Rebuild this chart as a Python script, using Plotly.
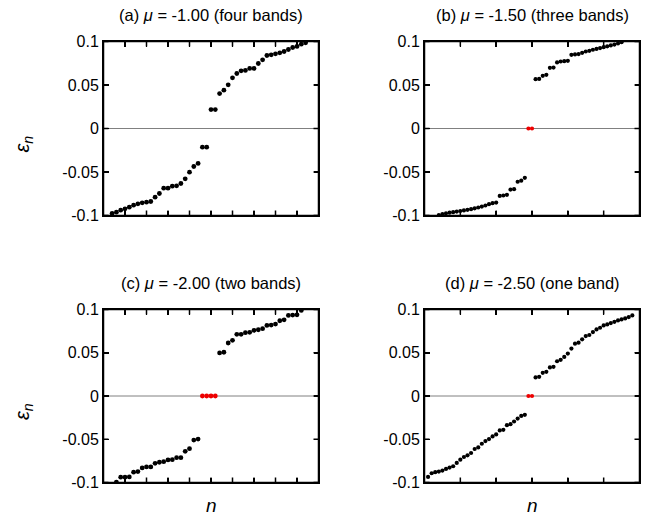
import plotly.graph_objects as go

# ---------------- data ----------------
a_n = list(range(2, 48))
a_eps = [-0.0977, -0.0962, -0.0939, -0.0923, -0.0904, -0.0881, -0.0866, -0.0854, -0.0847, -0.0839,
         -0.0789, -0.0747, -0.0686, -0.0686, -0.0663, -0.0659, -0.0632, -0.0579, -0.0502, -0.0437,
         -0.0402, -0.0215, -0.0215, 0.0218, 0.0218, 0.0402, 0.0441, 0.0502, 0.0582, 0.0632,
         0.0663, 0.0667, 0.0690, 0.0690, 0.0747, 0.0789, 0.0839, 0.0847, 0.0858, 0.0870,
         0.0885, 0.0908, 0.0931, 0.0943, 0.0969, 0.0985]
b_n = list(range(4, 29)) + list(range(31, 56))
b_eps = [-0.0996, -0.0985, -0.0975, -0.0968, -0.0962, -0.0955, -0.0948, -0.0942, -0.0935, -0.0927,
         -0.0918, -0.0908, -0.0897, -0.0885, -0.0870, -0.0858, -0.0852, -0.0775, -0.0770, -0.0762,
         -0.0702, -0.0697, -0.0612, -0.0600, -0.0567,
         0.0567, 0.0570, 0.0605, 0.0617, 0.0697, 0.0700, 0.0760, 0.0770, 0.0774, 0.0778,
         0.0847, 0.0852, 0.0856, 0.0870, 0.0885, 0.0893, 0.0905, 0.0915, 0.0925, 0.0935,
         0.0945, 0.0955, 0.0965, 0.0978, 0.0992]
b_zero_n = [29, 30]
b_zero_eps = [0.0, 0.0]
c_n = list(range(3, 23)) + list(range(27, 47))
c_eps = [-0.0995, -0.0939, -0.0939, -0.0935, -0.0881, -0.0874, -0.0831, -0.0820, -0.0820, -0.0778,
         -0.0766, -0.0759, -0.0739, -0.0736, -0.0713, -0.0713, -0.0640, -0.0609, -0.0510, -0.0498,
         0.0498, 0.0506, 0.0613, 0.0644, 0.0713, 0.0713, 0.0732, 0.0736, 0.0759, 0.0766,
         0.0778, 0.0816, 0.0820, 0.0831, 0.0870, 0.0881, 0.0931, 0.0935, 0.0939, 0.0989]
c_zero_n = [23, 24, 25, 26]
c_zero_eps = [0.0, 0.0, 0.0, 0.0]
d_n = list(range(1, 29)) + list(range(31, 59))
d_eps = [-0.0935, -0.0893, -0.0881, -0.0874, -0.0862, -0.0843, -0.0828, -0.0812, -0.0774, -0.0736,
         -0.0705, -0.0686, -0.0659, -0.0613, -0.0594, -0.0552, -0.0521, -0.0498, -0.0467, -0.0444,
         -0.0398, -0.0391, -0.0337, -0.0326, -0.0295, -0.0261, -0.0230, -0.0218,
         0.0215, 0.0222, 0.0268, 0.0280, 0.0330, 0.0337, 0.0402, 0.0418, 0.0452, 0.0490,
         0.0548, 0.0605, 0.0617, 0.0655, 0.0693, 0.0705, 0.0739, 0.0770, 0.0789, 0.0816,
         0.0828, 0.0843, 0.0858, 0.0874, 0.0885, 0.0897, 0.0912, 0.0931]
d_zero_n = [29, 30]
d_zero_eps = [0.0, 0.0]

titles = ["(a) <i>μ</i> = -1.00 (four bands)", "(b) <i>μ</i> = -1.50 (three bands)",
          "(c) <i>μ</i> = -2.00 (two bands)", "(d) <i>μ</i> = -2.50 (one band)"]
y_tickvals = [-0.1, -0.05, 0, 0.05, 0.1]
y_ticktext = ["-0.1", "-0.05", "0", "0.05", "0.1"]
x_ranges = [[0, 50], [0, 60], [0, 50], [0, 60]]
y_range = [-0.1, 0.1]
x_tickvals = [list(range(5, 50, 5)), list(range(10, 60, 10)),
              list(range(5, 50, 5)), list(range(10, 60, 10))]

# ---------------- figure ----------------
W, H = 654, 520
FONT = "Liberation Sans"
fig = go.Figure()

xdom = [(103.5, 318.5), (424.5, 639.5)]
ydom = [(41.5, 215.5), (309.5, 482.5)]

def px2x(p):
    return p / W

def px2y(p):
    return 1 - p / H

panels = [
    (0, 0, a_n, a_eps, None, None, 4.8),
    (0, 1, b_n, b_eps, b_zero_n, b_zero_eps, 4.2),
    (1, 0, c_n, c_eps, c_zero_n, c_zero_eps, 4.8),
    (1, 1, d_n, d_eps, d_zero_n, d_zero_eps, 4.2),
]

LW = 1.5
TICK_FRAC_X = 5 / 174.0   # tick length as a fraction of panel height
TICK_FRAC_Y = 5 / 215.0   # tick length as a fraction of panel width
layout_axes = {}
for k, (r, c, xs, ys, zx, zy, ms) in enumerate(panels):
    idx = k + 1
    sfx = "" if idx == 1 else str(idx)
    xr, yr = "x" + sfx, "y" + sfx
    fig.add_trace(go.Scatter(x=xs, y=ys, mode="markers", xaxis=xr, yaxis=yr,
                             marker=dict(color="black", size=ms, line=dict(width=0)),
                             showlegend=False))
    if zx is not None:
        fig.add_trace(go.Scatter(x=zx, y=zy, mode="markers", xaxis=xr, yaxis=yr,
                                 marker=dict(color="#ee0000", size=ms, line=dict(width=0)),
                                 showlegend=False))
    x0, x1 = xdom[c]
    y0, y1 = ydom[r]
    layout_axes["xaxis" + sfx] = dict(
        domain=[px2x(x0), px2x(x1)], range=x_ranges[k], anchor=yr,
        tickmode="array", tickvals=x_tickvals[k], showticklabels=False,
        ticks="inside", ticklen=5, tickwidth=LW, tickcolor="#000000",
        showline=True, linecolor="#000000", linewidth=LW, mirror="allticks",
        showgrid=False, zeroline=False, automargin=False, fixedrange=True)
    layout_axes["yaxis" + sfx] = dict(
        domain=[px2y(y1), px2y(y0)], range=y_range, anchor=xr,
        tickmode="array", tickvals=y_tickvals, ticktext=y_ticktext,
        ticks="inside", ticklen=5, tickwidth=LW, tickcolor="#000000",
        showline=True, linecolor="#000000", linewidth=LW, mirror="allticks",
        showgrid=False, zeroline=False, automargin=False, fixedrange=True,
        tickfont=dict(family=FONT, size=16, color="black"))
    # panel frame, in the same layer as the (visible) dotted zero line
    fig.add_shape(type="rect", xref=xr + " domain", yref=yr + " domain",
                  x0=0, x1=1, y0=0, y1=1,
                  line=dict(color="black", width=1.5),
                  fillcolor="rgba(0,0,0,0)", layer="below")
    # tick marks on the four sides, placed on the axis tick values
    for tv in x_tickvals[k]:
        for yb, yt in ((0, TICK_FRAC_X), (1 - TICK_FRAC_X, 1)):
            fig.add_shape(type="line", xref=xr, yref=yr + " domain", x0=tv, x1=tv, y0=yb, y1=yt,
                          line=dict(color="black", width=1.5), layer="below")
    for tv in y_tickvals:
        for xa, xb in ((0, TICK_FRAC_Y), (1 - TICK_FRAC_Y, 1)):
            fig.add_shape(type="line", xref=xr + " domain", yref=yr, x0=xa, x1=xb, y0=tv, y1=tv,
                          line=dict(color="black", width=1.5), layer="below")
    # dotted zero line
    fig.add_shape(type="line", xref=xr + " domain", x0=0, x1=1, yref=yr, y0=0, y1=0,
                  line=dict(color="black", width=1, dash="1px,1px"), layer="below")
    fig.add_annotation(text=titles[k], xref="paper", yref="paper",
                       x=px2x((x0 + x1) / 2), y=px2y(y0 - 27), xanchor="center", yanchor="middle",
                       showarrow=False, font=dict(family=FONT, size=16.5, color="black"))

for r in range(2):
    y0, y1 = ydom[r]
    fig.add_annotation(text="<i>ε<sub>n</sub></i>", xref="paper", yref="paper",
                       x=px2x(23), y=px2y((y0 + y1) / 2 + 16), textangle=-90,
                       xanchor="center", yanchor="middle", showarrow=False,
                       font=dict(family=FONT, size=20, color="black"))
for c in range(2):
    x0, x1 = xdom[c]
    fig.add_annotation(text="<i>n</i>", xref="paper", yref="paper",
                       x=px2x((x0 + x1) / 2), y=px2y(505), xanchor="center", yanchor="middle",
                       showarrow=False, font=dict(family=FONT, size=19, color="black"))

fig.update_layout(template="none", width=W, height=H, margin=dict(l=0, r=0, t=0, b=0, pad=0),
                  paper_bgcolor="white", plot_bgcolor="white", showlegend=False,
                  font=dict(family=FONT, color="black"))
fig.update_layout(**layout_axes)
fig.write_html("out.html", config={"displayModeBar": False, "staticPlot": True},
               post_script="document.body.style.margin='0px';")
